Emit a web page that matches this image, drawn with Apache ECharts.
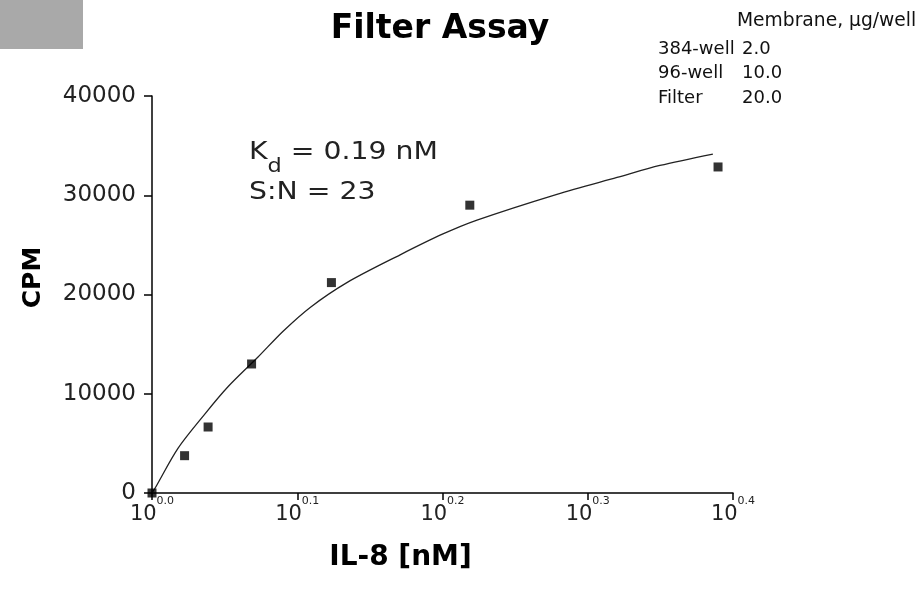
<!DOCTYPE html>
<html>
<head>
<meta charset="utf-8">
<script src="https://cdn.jsdelivr.net/npm/echarts@6/dist/echarts.min.js"></script>
<style>
html,body{margin:0;padding:0;background:#fff;}
#chart{width:922px;height:591px;}
</style>
</head>
<body>
<div id="chart"></div>
<script>
// Measured points: IL-8 concentration (nM) and CPM
const pointConc = [1.000, 1.053, 1.093, 1.171, 1.329, 1.655, 2.453];
const pointCpm  = [0, 3760, 6650, 13000, 21200, 29000, 32850];
// Fitted curve
const curveConc = [1.000, 1.005, 1.042, 1.088, 1.128, 1.183, 1.231, 1.285, 1.362, 1.482, 1.586, 1.674, 1.900, 2.090, 2.237, 2.433];
const curveCpm  = [0, 500, 4500, 8000, 10700, 13700, 16300, 18700, 21200, 24000, 26100, 27500, 30100, 31800, 33000, 34150];
// Axis ticks (log10 exponents) and texts
const xTickExponents = [0.0, 0.1, 0.2, 0.3, 0.4];
const yTicks = [0, 10000, 20000, 30000, 40000];
const tableHeader = 'Membrane, µg/well';
const tableRows = ['384-well', '96-well', 'Filter'];
const tableValues = ['2.0', '10.0', '20.0'];

const FONT = '"DejaVu Sans", "Liberation Sans", Arial, sans-serif';
const chart = echarts.init(document.getElementById('chart'));

const graphics = [
  { type: 'rect', shape: { x: 0, y: 0, width: 83, height: 49 }, style: { fill: '#a9a9a9' } },
  { type: 'text', left: 737, top: 12, style: { text: tableHeader, font: '18.7px ' + FONT, fill: '#111' } }
];
tableRows.forEach((r, i) => {
  graphics.push({ type: 'text', left: 658, top: 40 + i * 24.5, style: { text: r, font: '18px ' + FONT, fill: '#111' } });
  graphics.push({ type: 'text', left: 742, top: 40 + i * 24.5, style: { text: tableValues[i], font: '18px ' + FONT, fill: '#111' } });
});
graphics.push({
  type: 'text', x: 249, y: 141, scaleX: 1.18,
  style: {
    text: '{k|K}{d|d}{k| = 0.19 nM}',
    verticalAlign: 'top',
    rich: {
      k: { fontFamily: FONT, fontSize: 24, fill: '#222', lineHeight: 30, verticalAlign: 'top' },
      d: { fontFamily: FONT, fontSize: 19, fill: '#222', lineHeight: 30, verticalAlign: 'bottom', padding: [0, 0, -6, 0] }
    }
  }
});
graphics.push({ type: 'text', x: 249, y: 181, scaleX: 1.18, style: { text: 'S:N = 23', font: '24px ' + FONT, fill: '#222', verticalAlign: 'top' } });

const option = {
  animation: false,
  backgroundColor: '#fff',
  title: {
    text: 'Filter Assay',
    left: 435, top: 8, textAlign: 'center',
    textStyle: { fontFamily: FONT, fontWeight: 'bold', fontSize: 33, color: '#000' }
  },
  graphic: graphics,
  grid: { left: 152, right: 189, top: 96, bottom: 98, containLabel: false },
  xAxis: {
    type: 'value', min: 0, max: 0.4, interval: 0.1,
    name: 'IL-8 [nM]', nameLocation: 'middle', nameGap: 51,
    nameTextStyle: { fontFamily: FONT, fontWeight: 'bold', fontSize: 28, color: '#000', padding: [0, 84, 0, 0] },
    axisLine: { lineStyle: { color: '#000', width: 1.5 } },
    axisTick: { show: true, length: 7, lineStyle: { color: '#000', width: 1.5 } },
    splitLine: { show: false },
    axisLabel: {
      margin: 3,
      customValues: xTickExponents,
      formatter: v => '{b|10}{s|' + v.toFixed(1) + '}',
      rich: {
        b: { fontFamily: FONT, fontSize: 21, color: '#222', lineHeight: 29, verticalAlign: 'bottom' },
        s: { fontFamily: FONT, fontSize: 11, color: '#222', lineHeight: 13, verticalAlign: 'top' }
      }
    }
  },
  yAxis: {
    type: 'value', min: yTicks[0], max: yTicks[yTicks.length - 1], interval: 10000,
    name: 'CPM', nameLocation: 'middle', nameGap: 106, nameRotate: 90,
    nameTextStyle: { fontFamily: FONT, fontWeight: 'bold', fontSize: 25, color: '#000', padding: [0, 0, 0, 34] },
    axisLine: { show: true, lineStyle: { color: '#000', width: 1.5 } },
    axisTick: { show: true, length: 8, lineStyle: { color: '#000', width: 1.5 } },
    splitLine: { show: false },
    axisLabel: { margin: 16, fontFamily: FONT, fontSize: 23, color: '#222', formatter: v => String(v) }
  },
  series: [
    {
      type: 'line', name: 'fit', smooth: 0.3, showSymbol: false, silent: true,
      lineStyle: { color: '#222', width: 1.3 },
      data: curveConc.map((c, i) => [Math.log10(c), curveCpm[i]]),
      z: 2
    },
    {
      type: 'scatter', name: 'data', symbol: 'rect', symbolSize: 9,
      itemStyle: { color: '#000' },
      data: pointConc.map((c, i) => [Math.log10(c), pointCpm[i]]),
      z: 3
    }
  ]
};
chart.setOption(option);
</script>
</body>
</html>
